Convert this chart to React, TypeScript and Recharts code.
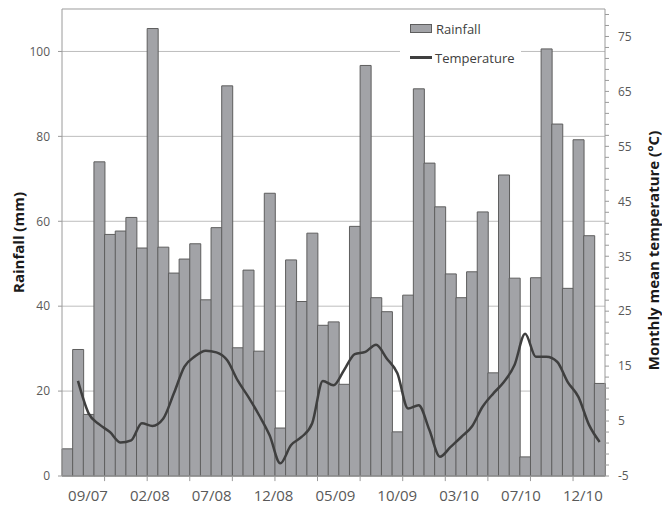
import React from 'react';
import { ComposedChart, Bar, Line, XAxis, YAxis, CartesianGrid, Legend, ReferenceLine } from 'recharts';

const months = [
  '07/07', '08/07', '09/07', '10/07', '11/07', '12/07',
  '01/08', '02/08', '03/08', '04/08', '05/08', '06/08', '07/08', '08/08', '09/08', '10/08', '11/08', '12/08',
  '01/09', '02/09', '03/09', '04/09', '05/09', '06/09', '07/09', '08/09', '09/09', '10/09', '11/09', '12/09',
  '01/10', '02/10', '03/10', '04/10', '05/10', '06/10', '07/10', '08/10', '09/10', '10/10', '11/10', '12/10',
  '01/11', '02/11', '03/11', '04/11', '05/11', '06/11', '07/11', '08/11', '09/11',
];

const rainfall = [
  6.4, 29.8, 14.5, 74.0, 56.9, 57.7, 60.9, 53.7, 105.4, 53.9,
  47.8, 51.1, 54.7, 41.5, 58.5, 91.9, 30.2, 48.5, 29.4, 66.6,
  11.3, 50.9, 41.1, 57.2, 35.5, 36.3, 21.6, 58.8, 96.7, 42.0,
  38.7, 10.4, 42.6, 91.2, 73.7, 63.4, 47.6, 42.0, 48.1, 62.2,
  24.3, 70.9, 46.6, 4.5, 46.7, 100.6, 82.9, 44.2, 79.2, 56.6, 21.8,
];

const temperature: (number | null)[] = [
  null, 12.3, 6.4, 4.4, 3.0, 1.1, 1.5, 4.6, 4.1, 5.4,
  10.0, 14.9, 16.8, 17.8, 17.5, 16.1, 12.4, 9.4, 6.1, 2.4,
  -2.7, 0.6, 2.1, 4.6, 12.3, 11.5, 14.3, 17.2, 17.6, 18.9,
  16.4, 13.7, 7.3, 7.9, 3.4, -1.5, 0.3, 2.1, 4.0, 7.6,
  10.0, 12.1, 15.2, 20.9, 16.7, 16.7, 15.8, 12.1, 9.4, 4.3, 1.2,
];

const xTickLabels = ['09/07', '02/08', '07/08', '12/08', '05/09', '10/09', '03/10', '07/10', '12/10'];
const leftTicks = [0, 20, 40, 60, 80, 100];
const rightMajorTicks = [-5, 5, 15, 25, 35, 45, 55, 65, 75];

// layout constants (in bar-width units along the category axis)
const LABEL_START = 2.44;
const LABEL_STEP = 5.81;
const TICK_EVERY = 4;

const data = months.map((m, i) => ({
  month: m,
  pos: i + 0.5,
  rain: rainfall[i],
  temp: temperature[i],
}));

const N = months.length;
const labelPositions = xTickLabels.map((_, i) => +(LABEL_START + i * LABEL_STEP).toFixed(3));
const tickMarkPositions: number[] = [];
for (let p = TICK_EVERY; p < N - 1; p += TICK_EVERY) tickMarkPositions.push(p);

const rightTicks: number[] = [];
for (let v = -5; v < 80; v += 2) rightTicks.push(v);

const FONT = '"Open Sans", sans-serif';
const BAR_FILL = '#a2a3a7';
const BAR_STROKE = '#5e5e5e';
const LINE_COLOR = '#3f3f3f';
const GRID = '#bdbdbd';
const AXIS = '#9a9a9a';
const TICK_TEXT = '#595959';

const RightTick = (props: any) => {
  const { x, y, payload } = props;
  const v = payload.value;
  if (!rightMajorTicks.includes(v)) return <g />;
  return (
    <text x={x} y={y} dy="0.36em" textAnchor="start" fontSize={12} fill={TICK_TEXT} fontFamily={FONT}>
      {v}
    </text>
  );
};

const LeftTitle = (props: any) => {
  const { viewBox } = props;
  const cx = viewBox.x + 5.5;
  const cy = viewBox.y + viewBox.height / 2;
  return (
    <text
      x={cx}
      y={cy}
      transform={`rotate(-90 ${cx} ${cy})`}
      textAnchor="middle"
      dominantBaseline="central"
      fontSize={15}
      fontWeight="bold"
      fill="#1a1a1a"
      fontFamily={FONT}
    >
      Rainfall (mm)
    </text>
  );
};

const RightTitle = (props: any) => {
  const { viewBox } = props;
  const cx = viewBox.x + viewBox.width - 9.5;
  const cy = viewBox.y + viewBox.height / 2 + 8;
  return (
    <text
      x={cx}
      y={cy}
      transform={`rotate(-90 ${cx} ${cy})`}
      textAnchor="middle"
      dominantBaseline="central"
      fontSize={15}
      fontWeight="bold"
      fill="#1a1a1a"
      fontFamily={FONT}
    >
      Monthly mean temperature (°C)
    </text>
  );
};

const LegendContent = () => (
  <div
    style={{
      background: '#fff',
      width: 121,
      fontFamily: FONT,
      fontSize: 13,
      color: '#404040',
      padding: '0',
    }}
  >
    <div style={{ display: 'flex', alignItems: 'center', height: 29 }}>
      <span
        style={{
          display: 'inline-block',
          width: 20,
          height: 7,
          background: BAR_FILL,
          border: `1px solid ${BAR_STROKE}`,
          marginLeft: 10,
          marginRight: 4,
        }}
      />
      <span>Rainfall</span>
    </div>
    <div style={{ display: 'flex', alignItems: 'center', height: 29 }}>
      <span
        style={{
          display: 'inline-block',
          width: 22,
          height: 2.5,
          background: LINE_COLOR,
          marginLeft: 10,
          marginRight: 3,
        }}
      />
      <span>Temperature</span>
    </div>
  </div>
);

export default function App() {
  return (
    <div style={{ position: 'absolute', left: 0, top: 0, width: 662, height: 505, background: '#fff', fontFamily: FONT }}>
      <ComposedChart
        width={662}
        height={505}
        data={data}
        margin={{ top: 9, right: 0, bottom: 0, left: 12 }}
        barCategoryGap={0}
        barGap={0}
      >
        <CartesianGrid yAxisId="left" vertical={false} stroke={GRID} strokeWidth={1} />
        <XAxis
          xAxisId="pos"
          dataKey="pos"
          type="number"
          domain={[0, N]}
          allowDataOverflow
          ticks={labelPositions}
          interval={0}
          tickFormatter={(v: number) => {
            const i = labelPositions.indexOf(v);
            return i >= 0 ? xTickLabels[i] : '';
          }}
          tickLine={false}
          tickSize={6}
          tickMargin={8}
          tick={{ fontSize: 15, fill: TICK_TEXT, fontFamily: FONT }}
          axisLine={{ stroke: AXIS }}
          height={29}
        />
        <XAxis dataKey="month" xAxisId="cat" hide height={0} />
        <YAxis
          yAxisId="left"
          domain={[0, 110]}
          ticks={leftTicks}
          interval={0}
          width={50}
          tickSize={4}
          tickMargin={8}
          tickLine={{ stroke: AXIS }}
          axisLine={{ stroke: AXIS }}
          tick={{ fontSize: 12, fill: TICK_TEXT, fontFamily: FONT }}
          label={<LeftTitle />}
        />
        <YAxis
          yAxisId="right"
          orientation="right"
          domain={[-5, 80]}
          ticks={rightTicks}
          interval={0}
          width={57}
          tickSize={4}
          tickMargin={9}
          tickLine={{ stroke: AXIS }}
          axisLine={{ stroke: AXIS }}
          tick={<RightTick />}
          label={<RightTitle />}
        />
        <ReferenceLine yAxisId="left" xAxisId="cat" y={110} stroke={GRID} strokeWidth={1} ifOverflow="extendDomain" />
        {tickMarkPositions.map((p) => (
          <ReferenceLine
            key={p}
            xAxisId="pos"
            yAxisId="left"
            segment={[{ x: p, y: 0 }, { x: p, y: -1.2 }]}
            stroke={AXIS}
            strokeWidth={1}
            ifOverflow="visible"
          />
        ))}
        <Bar
          xAxisId="cat"
          yAxisId="left"
          dataKey="rain"
          name="Rainfall"
          fill={BAR_FILL}
          stroke={BAR_STROKE}
          strokeWidth={1}
          isAnimationActive={false}
        />
        <Line
          xAxisId="cat"
          yAxisId="right"
          type="monotone"
          dataKey="temp"
          name="Temperature"
          stroke={LINE_COLOR}
          strokeWidth={2.5}
          dot={false}
          activeDot={false}
          connectNulls
          isAnimationActive={false}
        />
        <Legend
          content={<LegendContent />}
          layout="horizontal"
          verticalAlign="middle"
          align="center"
          wrapperStyle={{ position: 'absolute', left: 400, top: 14, width: 121, height: 58 }}
        />
      </ComposedChart>
    </div>
  );
}
